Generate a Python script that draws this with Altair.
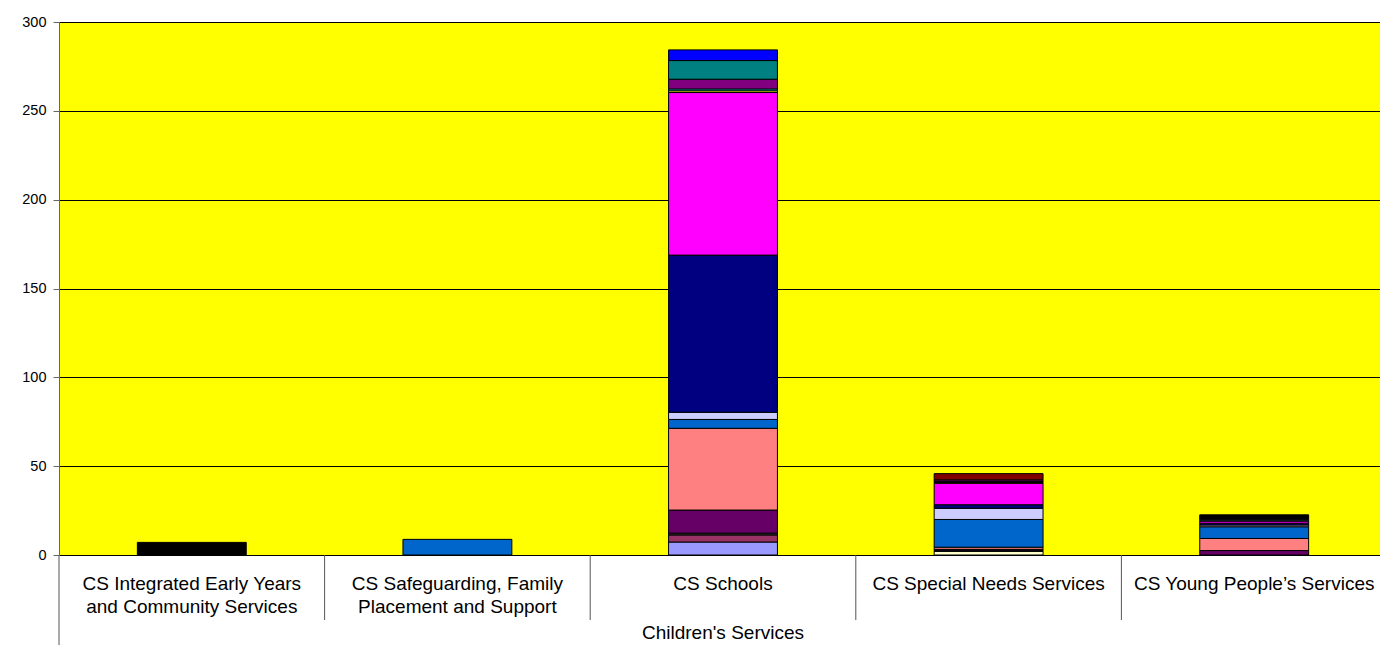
import altair as alt
import pandas as pd

categories = [
    "CS Integrated Early Years\nand Community Services",
    "CS Safeguarding, Family\nPlacement and Support",
    "CS Schools",
    "CS Special Needs Services",
    "CS Young People\u2019s Services",
]
group_label = "Children's Services"

series_names = [f"Series {i}" for i in range(1, 18)]
series_colors = ["#9999FF", "#993366", "#FFFFCC", "#CCFFFF", "#660066", "#FF8080",
                 "#0066CC", "#CCCCFF", "#000080", "#FF00FF", "#FFFF00", "#00FFFF",
                 "#800080", "#800000", "#008080", "#0000FF", "#000000"]

# values per series (bottom to top), for each category
vals_integrated = [0, 0, 0, 0, 0, 0, 0, 0, 0, 0, 0, 0, 0, 0, 0, 0, 7.1]
vals_safeguarding = [0, 0, 0, 0, 0, 0, 8.8, 0, 0, 0, 0, 0, 0, 0, 0, 0, 0]
vals_schools = [7.3, 4, 0.5, 0.5, 13, 46, 5, 4, 88.5, 91.5, 1, 1, 5.5, 0, 10.5, 6, 0]
vals_special = [0, 0, 2, 0.6, 0.6, 1.2, 15.6, 6.3, 2, 12, 0.5, 0.5, 1, 3.5, 0, 0, 0]
vals_young = [0, 0, 0, 0, 2.5, 6.8, 6.6, 1, 1, 1.2, 0.5, 0.5, 0.5, 0.5, 0, 0, 1.5]

all_vals = [vals_integrated, vals_safeguarding, vals_schools, vals_special, vals_young]

rows = []
for cat, vals in zip(categories, all_vals):
    for i, (s, v) in enumerate(zip(series_names, vals)):
        if v > 0:
            rows.append({"cat": cat, "series": s, "idx": i, "value": v})
df = pd.DataFrame(rows)

W = 1321
H = 533
PB = 90
BAND_SPAN = 1328
FONT = "Liberation Sans"

xscale = alt.Scale(domain=categories, paddingInner=0, paddingOuter=0, range=[0, BAND_SPAN])

bars = alt.Chart(df).mark_bar(
    width=alt.RelativeBandSize(0.41), stroke="#000000", strokeWidth=1
).encode(
    x=alt.X("cat:N", scale=xscale,
            axis=alt.Axis(labels=False, ticks=False, title=None, grid=False,
                          domainColor="#808080", domainWidth=1)),
    y=alt.Y("sum(value):Q", stack="zero",
            scale=alt.Scale(domain=[0, 300], nice=False),
            axis=alt.Axis(values=[0, 50, 100, 150, 200, 250, 300], title=None,
                          grid=True, gridColor="#000000", gridWidth=1, gridOpacity=1,
                          domainColor="#666666", tickColor="#666666", tickSize=6,
                          labelPadding=7, labelFont=FONT, labelFontSize=14.5,
                          labelColor="#000000")),
    color=alt.Color("series:N", scale=alt.Scale(domain=series_names, range=series_colors),
                    legend=None),
    order=alt.Order("idx:Q", sort="ascending"),
)

cat_df = pd.DataFrame({"cat": categories})

labels = alt.Chart(cat_df).mark_text(
    baseline="top", align="center", lineBreak="\n", lineHeight=23,
    font=FONT, fontSize=19, color="#000000"
).encode(
    x=alt.X("cat:N", scale=xscale, axis=None),
    y=alt.value(H + 20),
    text="cat:N",
)

sep_df = pd.DataFrame({"cat": categories[1:]})
seps = alt.Chart(sep_df).mark_rule(color="#555555", strokeWidth=1).encode(
    x=alt.X("cat:N", scale=xscale, axis=None, bandPosition=0),
    y=alt.value(H),
    y2=alt.value(H + 65),
)

left_line = alt.Chart(pd.DataFrame({"a": [0]})).mark_rule(color="#555555", strokeWidth=1).encode(
    x=alt.value(0),
    y=alt.value(H),
    y2=alt.value(H + PB),
)

group = alt.Chart(pd.DataFrame({"t": [group_label]})).mark_text(
    baseline="alphabetic", align="center", font=FONT, fontSize=19, color="#000000"
).encode(
    x=alt.value(BAND_SPAN / 2),
    y=alt.value(H + 84),
    text="t:N",
)

chart = alt.layer(bars, seps, left_line, labels, group).properties(
    width=W, height=H,
    autosize=alt.AutoSizeParams(type="none"),
    padding={"left": 51, "top": 14, "right": 0, "bottom": PB},
    background="#FFFFFF",
).configure_view(fill="#FFFF00", stroke=None)

chart.save("out.html", embed_options={"renderer": "svg", "actions": False})
